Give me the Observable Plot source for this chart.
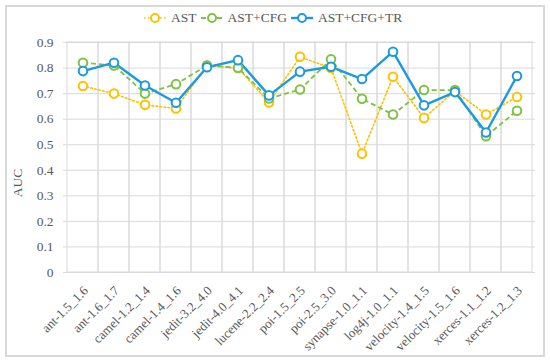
<!DOCTYPE html>
<html>
<head>
<meta charset="utf-8">
<script src="https://cdn.jsdelivr.net/npm/d3@7"></script>
<script src="https://cdn.jsdelivr.net/npm/@observablehq/plot@0.6"></script>
<style>
  html, body { margin: 0; padding: 0; background: #fff; }
  #wrap { position: relative; width: 550px; height: 363px; overflow: hidden; font-family: "Liberation Serif", "Times New Roman", serif; }
  #border { position: absolute; left: 5px; top: 5px; width: 536px; height: 348px; border: 2px solid #d9d9d9; }
  #legend { position: absolute; left: 143px; top: 10px; display: flex; align-items: center; font-size: 13.5px; color: #595959; }
  #legend .item { display: flex; align-items: center; margin-right: 3px; }
  #legend svg { margin-right: 4px; }
  #ylabel { position: absolute; left: 17.5px; top: 183px; transform: translate(-50%, -50%) rotate(-90deg); font-size: 13.5px; color: #595959; white-space: nowrap; }
  #chart { position: absolute; left: 0; top: 0; }
  #chart svg, #chart svg text, #chart svg g { font-family: "Liberation Serif", "Times New Roman", serif !important; }
</style>
</head>
<body>
<div id="wrap">
  <div id="border"></div>
  <div id="chart"></div>
  <div id="legend"></div>
  <div id="ylabel">AUC</div>
</div>
<script>
const categories = ["ant-1.5_1.6","ant-1.6_1.7","camel-1.2_1.4","camel-1.4_1.6","jedit-3.2_4.0","jedit-4.0_4.1","lucene-2.2_2.4","poi-1.5_2.5","poi-2.5_3.0","synapse-1.0_1.1","log4j-1.0_1.1","velocity-1.4_1.5","velocity-1.5_1.6","xerces-1.1_1.2","xerces-1.2_1.3"];
const ast      = [0.73, 0.70, 0.656, 0.642, 0.81, 0.80, 0.665, 0.844, 0.80, 0.465, 0.766, 0.605, 0.71, 0.618, 0.687];
const astCfg   = [0.821, 0.81, 0.70, 0.737, 0.81, 0.801, 0.681, 0.716, 0.834, 0.68, 0.618, 0.714, 0.714, 0.533, 0.633];
const astCfgTr = [0.788, 0.821, 0.732, 0.664, 0.803, 0.831, 0.693, 0.786, 0.805, 0.757, 0.864, 0.654, 0.706, 0.548, 0.769];
const yTicks = [0, 0.1, 0.2, 0.3, 0.4, 0.5, 0.6, 0.7, 0.8, 0.9];

const seriesDefs = [
  {name: "AST", values: ast, color: "#FFC000", width: 1.6, dash: "1.6,2.4"},
  {name: "AST+CFG", values: astCfg, color: "#7DC242", width: 1.8, dash: "5,3"},
  {name: "AST+CFG+TR", values: astCfgTr, color: "#1C9ADF", width: 2.4, dash: null}
];

const marks = [
  Plot.cell(categories, {x: d => d, stroke: "#d9d9d9", strokeWidth: 1, fill: "none"}),
  Plot.gridY(yTicks, {stroke: "#d9d9d9", strokeOpacity: 1, strokeWidth: 1}),
  Plot.axisY(yTicks, {tickSize: 0, tickPadding: 10, fontSize: 13.5, fill: "#595959", label: null, tickFormat: d => d === 0 ? "0" : d3.format(".1f")(d)}),
  Plot.axisX({tickSize: 0, tickPadding: 16, tickRotate: -45, fontSize: 13, fill: "#595959", label: null, dx: 3})
];
for (const s of seriesDefs) {
  const data = categories.map((c, i) => ({c, v: s.values[i]}));
  marks.push(Plot.line(data, {x: "c", y: "v", stroke: s.color, strokeWidth: s.width, strokeDasharray: s.dash, strokeLinecap: s.dash && s.dash.startsWith("1.6") ? "round" : "butt"}));
}
for (const s of seriesDefs) {
  const data = categories.map((c, i) => ({c, v: s.values[i]}));
  marks.push(Plot.dot(data, {x: "c", y: "v", r: 4.3, stroke: s.color, strokeWidth: 2, fill: "white"}));
}

const chart = Plot.plot({
  width: 550,
  height: 363,
  marginLeft: 63,
  marginRight: 15,
  marginTop: 42,
  marginBottom: 91,
  style: {fontFamily: "'Liberation Serif', 'Times New Roman', serif", background: "transparent", overflow: "visible"},
  x: {type: "band", domain: categories, padding: 0},
  y: {domain: [0, 0.9]},
  marks
});
document.getElementById("chart").appendChild(chart);

const legend = document.getElementById("legend");
for (const s of seriesDefs) {
  const item = document.createElement("div");
  item.className = "item";
  item.innerHTML = `<svg width="24" height="14"><line x1="1" y1="7" x2="23" y2="7" stroke="${s.color}" stroke-width="${s.width}" ${s.dash ? `stroke-dasharray="${s.dash}"` : ""}/><circle cx="12" cy="7" r="4" fill="white" stroke="${s.color}" stroke-width="2"/></svg><span>${s.name}</span>`;
  legend.appendChild(item);
}
</script>
</body>
</html>
